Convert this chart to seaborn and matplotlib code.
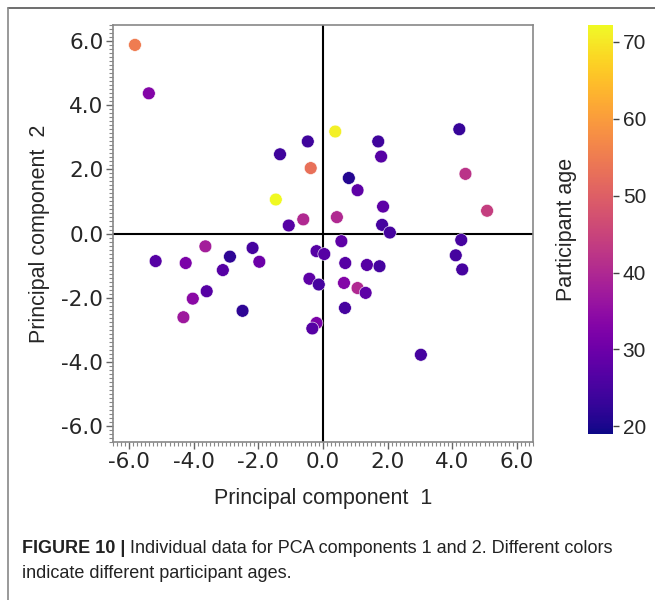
import numpy as np
import pandas as pd
import matplotlib
matplotlib.use("Agg")
import matplotlib.pyplot as plt
import seaborn as sns
from matplotlib.ticker import MultipleLocator, FormatStrFormatter
from matplotlib.lines import Line2D

# Values
pc1 = [-5.82, -5.39, -0.47, -1.33, -0.38, -1.46, -1.06, -0.61, 0.38, 4.22,
       1.71, 1.80, 0.80, 1.07, 4.41, 5.08, 1.86, 0.43, 1.83, 2.07,
       0.57, 4.28, -5.18, -4.25, -3.64, -2.88, -2.18, -1.97, -3.10, -3.60,
       -4.03, -4.32, -2.49, -0.20, 0.04, -0.42, -0.13, -0.20, -0.33, 0.69,
       1.36, 1.75, 4.11, 4.31, 0.65, 1.07, 1.32, 0.68, 3.03]
pc2 = [5.88, 4.37, 2.87, 2.47, 2.04, 1.06, 0.25, 0.44, 3.18, 3.25,
       2.87, 2.40, 1.73, 1.35, 1.86, 0.71, 0.84, 0.51, 0.27, 0.03,
       -0.24, -0.20, -0.86, -0.92, -0.40, -0.72, -0.45, -0.88, -1.14, -1.80,
       -2.03, -2.61, -2.41, -0.55, -0.64, -1.41, -1.59, -2.79, -2.96, -0.92,
       -0.98, -1.02, -0.68, -1.12, -1.54, -1.70, -1.85, -2.32, -3.78]
age = [55, 33, 24, 24, 53, 72, 27, 40, 71, 23,
       24, 27, 21, 28, 42, 44, 28, 40, 25, 25,
       28, 25, 27, 32, 38, 22, 25, 30, 27, 27,
       34, 37, 22, 27, 27, 28, 25, 32, 27, 27,
       27, 25, 25, 25, 33, 40, 28, 25, 25]

df = pd.DataFrame({"PC1": pc1, "PC2": pc2, "Age": age})
age_min, age_max = 19.0, 72.2

sns.set_style("white")
plt.rcParams["font.family"] = ["DejaVu Sans"]

fig = plt.figure(figsize=(6.55, 6.0), dpi=100)
ax = fig.add_axes([0.1725, 0.2633, 0.6412, 0.695])
cax = fig.add_axes([0.8977, 0.2767, 0.0382, 0.6817])

sns.scatterplot(data=df, x="PC1", y="PC2", hue="Age", palette="plasma",
                hue_norm=(age_min, age_max), s=85, edgecolor="white",
                linewidth=0.4, legend=False, ax=ax, zorder=3)

ax.axhline(0, color="black", lw=1.5, zorder=2)
ax.axvline(0, color="black", lw=1.5, zorder=2)

ax.set_xlim(-6.5, 6.5)
ax.set_ylim(-6.5, 6.5)
ax.xaxis.set_major_locator(MultipleLocator(2))
ax.yaxis.set_major_locator(MultipleLocator(2))
ax.xaxis.set_minor_locator(MultipleLocator(0.125))
ax.yaxis.set_minor_locator(MultipleLocator(0.125))
ax.xaxis.set_major_formatter(FormatStrFormatter("%.1f"))
ax.yaxis.set_major_formatter(FormatStrFormatter("%.1f"))
ax.tick_params(which="major", direction="out", length=5, width=1,
               color="#666666", labelsize=15.5, pad=2,
               bottom=True, left=True)
ax.tick_params(which="minor", direction="out", length=3, width=0.8,
               color="#888888", bottom=True, left=True)
for sp in ax.spines.values():
    sp.set_color("#888888")
    sp.set_linewidth(1.2)

label_font = ["Liberation Sans", "DejaVu Sans"]
ax.set_xlabel("Principal component  1", fontsize=15.5, family=label_font, labelpad=12)
ax.set_ylabel("Principal component  2", fontsize=15.5, family=label_font, labelpad=8)

sm = plt.cm.ScalarMappable(cmap="plasma", norm=plt.Normalize(age_min, age_max))
cb = fig.colorbar(sm, cax=cax)
cb.outline.set_visible(False)
cb.set_ticks([20, 30, 40, 50, 60, 70])
cax.tick_params(labelsize=15, length=4, width=1, color="#444444", pad=3)
for t in cax.get_yticklabels():
    t.set_family(label_font)
cax.yaxis.set_label_position("left")
cb.set_label("Participant age", fontsize=15.5, family=label_font, labelpad=8)

# figure frame (top and left rules)
fig.add_artist(Line2D([0.0122, 1.0], [0.987, 0.987], transform=fig.transFigure,
                      color="#555555", lw=1.2))
fig.add_artist(Line2D([0.0122, 0.0122], [0.0, 0.987], transform=fig.transFigure,
                      color="#888888", lw=1.2))

# caption: bold prefix, then regular text placed right after it
cap_font = ["Liberation Sans", "DejaVu Sans"]
cap_size = 13
head = fig.text(0.034, 0.078, "FIGURE 10 |", fontsize=cap_size, fontweight="bold",
                family=cap_font, color="#222222")
renderer = fig.canvas.get_renderer()
bb = head.get_window_extent(renderer=renderer)
x_next = (bb.x1 + 4) / fig.bbox.width
fig.text(x_next, 0.078, "Individual data for PCA components 1 and 2. Different colors",
         fontsize=cap_size, family=cap_font, color="#222222")
fig.text(0.034, 0.036, "indicate different participant ages.",
         fontsize=cap_size, family=cap_font, color="#222222")

fig.savefig("out.png", dpi=100)
